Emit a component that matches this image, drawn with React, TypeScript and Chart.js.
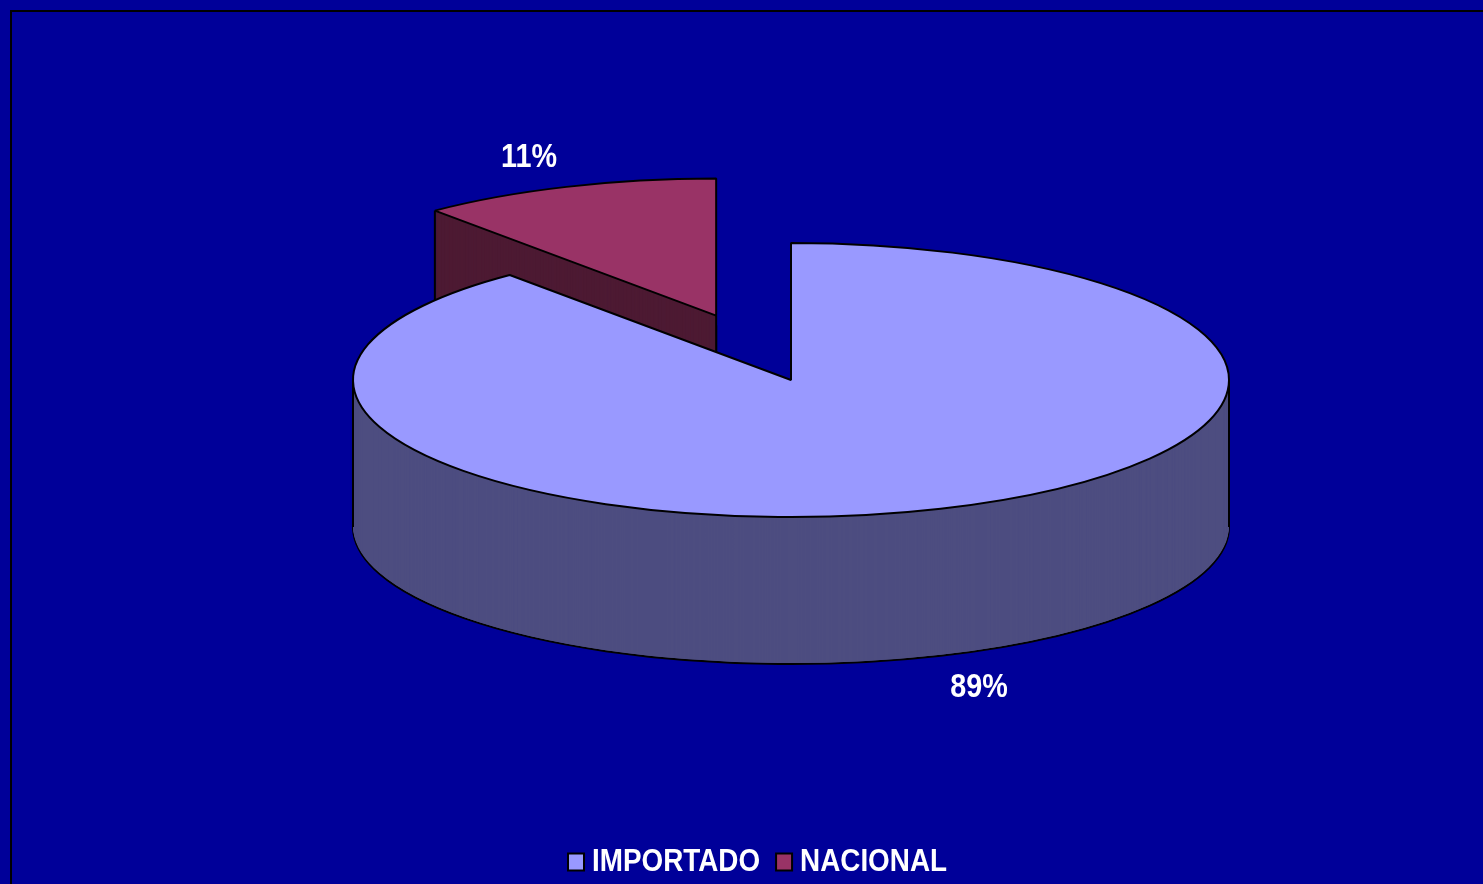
import React, { useEffect, useRef } from "react";
import { Chart, registerables } from "chart.js";

Chart.register(...registerables);

const categories = ["IMPORTADO", "NACIONAL"];
const shares = [88.9, 11.1];
const shareLabels = ["89%", "11%"];
const explode = [0, 0.5];
const topColors = ["#9999FF", "#993366"];
const wallColors = ["#4D4D80", "#4D1A33"];

const BG = "#000099";
const FONT = "'Liberation Sans', Arial, sans-serif";
const TEXT_SQUEEZE = 0.87;
const LEGEND_TEXT_PULL = 8;
const CX = 791;
const CY = 380;
const RX = 438;
const RY = 137;
const DEPTH = 147;
const LABEL_POS = [
  [979, 688],
  [529, 158],
];

const pie3d = {
  id: "pie3d",
  beforeDraw(chart: any) {
    const ctx = chart.ctx;
    ctx.save();
    ctx.fillStyle = BG;
    ctx.fillRect(0, 0, chart.width, chart.height);
    ctx.strokeStyle = "#000";
    ctx.lineWidth = 2;
    ctx.beginPath();
    ctx.moveTo(11, chart.height);
    ctx.lineTo(11, 11);
    ctx.lineTo(chart.width, 11);
    ctx.stroke();
    ctx.restore();
  },
  beforeDatasetsDraw(chart: any) {
    const ctx = chart.ctx;
    const arcs = chart.getDatasetMeta(0).data;
    const nativeStroke = ctx.stroke;
    // keep the outline an even width under the elliptical transform
    ctx.stroke = function () {
      ctx.save();
      ctx.setTransform(1, 0, 0, 1, 0, 0);
      nativeStroke.call(ctx);
      ctx.restore();
    };
    const sliceOffset = (arc: any, i: number) => {
      const mid = (arc.startAngle + arc.endAngle) / 2;
      const d = explode[i] * arc.outerRadius;
      return [Math.cos(mid) * d, Math.sin(mid) * d];
    };
    const drawAt = (i: number, dy: number, fill?: string, border?: boolean) => {
      const arc = arcs[i];
      const [ox, oy] = sliceOffset(arc, i);
      const saved = arc.options;
      if (fill) {
        arc.options = Object.create(saved, {
          backgroundColor: { value: fill },
          borderWidth: { value: border ? saved.borderWidth : 0 },
        });
      }
      ctx.save();
      ctx.translate(CX, CY + dy);
      ctx.scale(RX / arc.outerRadius, RY / arc.outerRadius);
      ctx.translate(ox - arc.x, oy - arc.y);
      arc.draw(ctx, chart.chartArea);
      ctx.restore();
      arc.options = saved;
    };
    const edge = (xs: number[], ys: number[]) => {
      ctx.save();
      ctx.strokeStyle = "#000";
      ctx.lineWidth = 2;
      ctx.beginPath();
      xs.forEach((x, i) => {
        ctx.moveTo(x, ys[i]);
        ctx.lineTo(x, ys[i] + DEPTH);
      });
      ctx.stroke();
      ctx.restore();
    };
    const drawSlice = (i: number) => {
      const arc = arcs[i];
      const k = RX / arc.outerRadius;
      const ky = RY / arc.outerRadius;
      const [ox, oy] = sliceOffset(arc, i);
      drawAt(i, DEPTH, wallColors[i], true);
      for (let d = DEPTH - 1; d > 0; d--) drawAt(i, d, wallColors[i], false);
      if (i === 0) {
        edge([CX - RX, CX + RX], [CY, CY]);
      } else {
        const a = arc.startAngle;
        const r = arc.outerRadius;
        edge(
          [CX + ox * k, CX + (ox + Math.cos(a) * r) * k],
          [CY + oy * ky, CY + (oy + Math.sin(a) * r) * ky]
        );
      }
      drawAt(i, 0);
    };
    drawSlice(1);
    drawSlice(0);
    delete ctx.stroke;
    return false;
  },
  afterDraw(chart: any) {
    const ctx = chart.ctx;
    ctx.save();
    ctx.fillStyle = "#fff";
    ctx.font = `bold 33px ${FONT}`;
    ctx.textAlign = "center";
    ctx.textBaseline = "middle";
    shareLabels.forEach((t, i) => ctx.fillText(t, LABEL_POS[i][0], LABEL_POS[i][1]));
    ctx.restore();
  },
};

// The reference's lettering is condensed: text is measured and drawn narrower.
function condenseText(ctx: any) {
  const fill = ctx.fillText.bind(ctx);
  const measure = ctx.measureText.bind(ctx);
  ctx.fillText = (t: string, x: number, y: number, w?: number) => {
    const pull = categories.includes(t) ? LEGEND_TEXT_PULL : 0;
    ctx.save();
    ctx.translate(x - pull, y);
    ctx.scale(TEXT_SQUEEZE, 1);
    if (w === undefined) fill(t, 0, 0);
    else fill(t, 0, 0, w);
    ctx.restore();
  };
  ctx.measureText = (t: string) => {
    const m = measure(t);
    return { width: m.width * TEXT_SQUEEZE, actualBoundingBoxAscent: m.actualBoundingBoxAscent, actualBoundingBoxDescent: m.actualBoundingBoxDescent };
  };
}

export default function App() {
  const ref = useRef<HTMLCanvasElement>(null);
  useEffect(() => {
    document.body.style.margin = "0";
    document.body.style.background = BG;
    const ctx = ref.current!.getContext("2d")!;
    condenseText(ctx);
    const chart = new Chart(ref.current!, {
      type: "pie",
      data: {
        labels: categories,
        datasets: [
          {
            data: shares,
            backgroundColor: topColors,
            borderColor: "#000",
            borderWidth: 2,
            clip: false,
          } as any,
        ],
      },
      options: {
        responsive: false,
        animation: false,
        layout: { padding: { left: 40, bottom: -4 } },
        plugins: {
          tooltip: { enabled: false },
          legend: {
            position: "bottom",
            labels: {
              color: "#fff",
              boxWidth: 16,
              boxHeight: 17,
              padding: 8,
              font: { family: FONT, size: 32, weight: "bold", lineHeight: 1 },
            },
          },
        },
      },
      plugins: [pie3d],
    } as any);
    return () => {
      chart.destroy();
      delete (ctx as any).fillText;
      delete (ctx as any).measureText;
    };
  }, []);
  return <canvas ref={ref} width={1483} height={884} style={{ display: "block" }} />;
}
